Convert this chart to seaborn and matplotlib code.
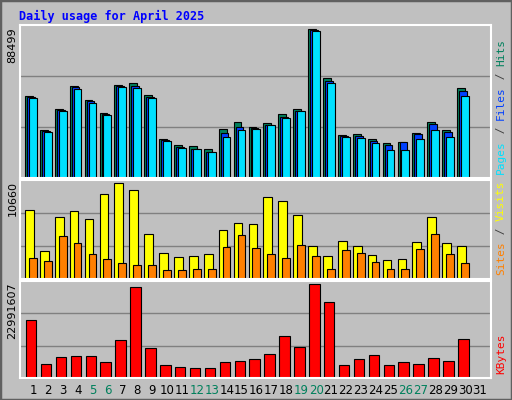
import matplotlib
matplotlib.use("Agg")
import matplotlib.pyplot as plt
import seaborn as sns
import numpy as np
import pandas as pd
from matplotlib.patches import Rectangle

days = list(range(1, 31))
hits = [48850,28430,41040,54860,46450,38640,55460,56660,49450,23020,19420,18820,17020,29030,33230,30230,
        32630,38040,41040,88499,59660,25430,26030,23020,20620,21220,26630,33230,28430,53650]
files = [48250,27830,40440,54250,45850,38040,54850,54850,48250,22420,18220,17020,15220,26630,30230,29630,
         31430,36240,39840,87890,57860,24820,24820,21820,19420,21220,26030,32030,27230,51850]
pages = [47650,27230,39840,53050,44650,37440,54250,53650,47650,21820,17620,17020,15220,24220,28430,29030,
         31430,35640,39840,87290,56660,24220,23620,20620,16420,16420,23020,28430,24220,48850]
visits = [7650,3130,6950,7530,6720,9500,10660,9960,4980,2900,2430,2550,2780,5450,6260,6140,
          9150,8690,7180,3710,2550,4290,3710,2660,2090,2200,4170,6950,4060,3710]
sites = [2320,1970,4750,4060,2780,2200,1740,1510,1510,1040,1040,1160,1160,3590,4870,3480,
         2780,2320,3820,2550,1160,3240,2900,1850,1160,1160,3360,4980,2780,1740]
kbytes = [14180000,3360000,5120000,5370000,5370000,3860000,9400000,22240000,7380000,3100000,2600000,
          2350000,2350000,3860000,4110000,4620000,5870000,10400000,7640000,22991607,18710000,3100000,
          4620000,5620000,3100000,3860000,3360000,4870000,4110000,9650000]
tick_days = list(range(1, 32))
weekends = [5, 6, 12, 13, 19, 20, 26, 27]
title = "Daily usage for April 2025"

sns.set_style("white")
BG = "#C0C0C0"
GREEN, BLUE, CYAN = "#00805C", "#0040FF", "#00E0FF"
YEL, ORA, RED = "#FFFF00", "#FF8000", "#FF0000"

fig = plt.figure(figsize=(5.12, 4.0), dpi=100, facecolor=BG)
fig.patches.append(Rectangle((0, 0), 1, 1, transform=fig.transFigure, fill=False,
                             edgecolor="#606060", lw=2.5))
fig.text(19/512, 1-16/400, title, color="#0000FF", fontsize=8.5, fontweight="bold",
         family="DejaVu Sans Mono", va="center", ha="left")

L, W = 20/512, 471/512
ax1 = fig.add_axes([L, 222/400, W, 153/400])
ax2 = fig.add_axes([L, 121/400, W, 99/400])
ax3 = fig.add_axes([L, 22/400, W, 97/400])

x = np.array(days, dtype=float)
ekw = dict(edgecolor="black", linewidth=0.8, align="edge")
ax1.bar(x - 0.53, hits, width=0.52, color=GREEN, **ekw)
ax1.bar(x - 0.40, files, width=0.52, color=BLUE, **ekw)
ax1.bar(x - 0.27, pages, width=0.52, color=CYAN, **ekw)
ax2.bar(x - 0.53, visits, width=0.58, color=YEL, **ekw)
ax2.bar(x - 0.27, sites, width=0.52, color=ORA, **ekw)
ax3.bar(x - 0.47, kbytes, width=0.70, color=RED, **ekw)

tops = [(ax1, max(hits) * 1.03), (ax2, max(visits) * 1.036), (ax3, max(kbytes) * 1.036)]
labels = [str(max(hits)), str(max(visits)), str(max(kbytes))]
for (ax, top), lab in zip(tops, labels):
    ax.set_facecolor(BG)
    ax.set_xlim(0.128, 31.74)
    ax.set_ylim(0, top)
    for g in (top/3, 2*top/3):
        ax.axhline(g, color="#808080", lw=1, zorder=0)
    ax.set_yticks([])
    ax.set_xticks([])
    for s in ax.spines.values():
        s.set_color("white"); s.set_linewidth(1.5)
    ax.text(-0.016, 0.985, lab, transform=ax.transAxes, rotation=90, ha="center", va="top",
            fontsize=8, color="black")

ax3.set_xticks(tick_days)
ax3.set_xticklabels([str(d) for d in tick_days], fontsize=8.5)
ax3.tick_params(axis="x", length=0, pad=4)
for t, d in zip(ax3.get_xticklabels(), tick_days):
    t.set_color(GREEN if d in weekends else "black")

fig.canvas.draw()
renderer = fig.canvas.get_renderer()

def side(ax, parts):
    pos = ax.get_position()
    ybot = pos.y0 * 400 + 4  # pixels from bottom
    xpix = 501
    for txt, col in parts:
        t = fig.text(xpix/512, ybot/400, txt, rotation=90, ha="center", va="bottom",
                     fontsize=8, family="DejaVu Sans Mono", color=col)
        bb = t.get_window_extent(renderer)
        ybot += bb.height

side(ax1, [("Pages", CYAN), (" / ", "#404040"), ("Files", BLUE), (" / ", "#404040"), ("Hits", GREEN)])
side(ax2, [("Sites", ORA), (" / ", "#404040"), ("Visits", YEL)])
side(ax3, [("KBytes", RED)])

fig.savefig("out.png", dpi=100, facecolor=BG)
